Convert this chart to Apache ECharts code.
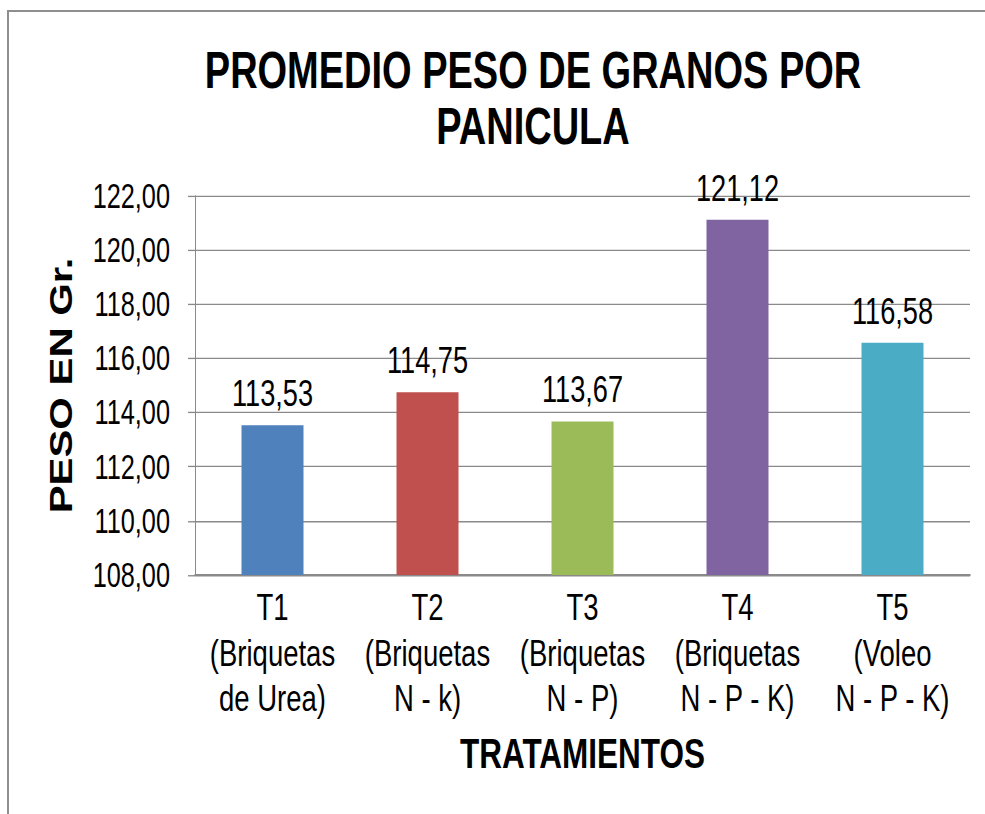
<!DOCTYPE html>
<html>
<head>
<meta charset="utf-8">
<script src="https://cdn.jsdelivr.net/npm/echarts@6/dist/echarts.min.js"></script>
<style>
    * { margin: 0; padding: 0; }
    body { background: #fff; overflow: hidden; }
    /* el original está estirado en vertical, se dibuja mas bajo y se escala */
    #chart {
        position: absolute; left: 0; top: 0;
        width: 985px; height: 603px;
        transform: scaleY(1.35); transform-origin: 0 0;
    }
    #marco {
        position: absolute; left: 7px; top: 10px;
        width: 1000px; height: 900px;
        border-left: 2px solid #8e8e8e; border-top: 2px solid #8e8e8e;
    }
</style>
</head>
<body>
<div id="marco"></div>
<div id="chart"></div>
<script>
    var tratamientos = [
        'T1\n(Briquetas\nde Urea)',
        'T2\n(Briquetas\nN - k)',
        'T3\n(Briquetas\nN - P)',
        'T4\n(Briquetas\nN - P - K)',
        'T5\n(Voleo\nN - P - K)'
    ]
    var peso = [113.53, 114.75, 113.67, 121.12, 116.58]
    var colores = ['#4F81BD', '#C0504D', '#9BBB59', '#8064A2', '#4BACC6']

    var fuente = 'Liberation Sans, Arial, sans-serif'
    function coma(v) { return v.toFixed(2).replace('.', ',') }

    var chart = echarts.init(document.getElementById('chart'), null, { renderer: 'svg' })
    chart.setOption({
        animation: false,
        title: {
            text: 'PROMEDIO PESO DE GRANOS POR\nPANICULA',
            left: 533,
            top: 32,
            padding: 0,
            textAlign: 'center',
            textStyle: {
                fontFamily: fuente,
                fontSize: 38,
                fontWeight: 'bold',
                color: '#000',
                lineHeight: 41
            }
        },
        grid: { left: 195, right: 15, top: 145.2, bottom: 177.1, containLabel: false },
        xAxis: {
            type: 'category',
            data: tratamientos,
            name: 'TRATAMIENTOS',
            nameLocation: 'middle',
            nameGap: 116,
            nameTextStyle: { fontFamily: fuente, fontSize: 31.5, fontWeight: 'bold', color: '#000' },
            axisLine: { lineStyle: { color: '#8a8a8a', width: 1.5 } },
            axisTick: { show: false },
            axisLabel: {
                interval: 0,
                margin: 7,
                fontFamily: fuente,
                fontSize: 27.5,
                lineHeight: 33.7,
                color: '#000'
            }
        },
        yAxis: {
            type: 'value',
            min: 108,
            max: 122,
            interval: 2,
            name: 'PESO EN Gr.',
            nameLocation: 'middle',
            nameGap: 118,
            nameTextStyle: { fontFamily: fuente, fontSize: 31, fontWeight: 'bold', color: '#000' },
            axisLine: { show: true, lineStyle: { color: '#8a8a8a', width: 1 } },
            axisTick: { show: true, length: 7, lineStyle: { color: '#8a8a8a' } },
            splitLine: { lineStyle: { color: '#8a8a8a', width: 1 } },
            axisLabel: {
                margin: 25,
                fontFamily: fuente,
                fontSize: 25.3,
                color: '#000',
                formatter: coma
            }
        },
        series: [{
            type: 'bar',
            data: peso.map(function (v, i) {
                return { value: v, itemStyle: { color: colores[i] } }
            }),
            barWidth: 62,
            label: {
                show: true,
                position: 'top',
                distance: 10,
                fontFamily: fuente,
                fontSize: 27.2,
                color: '#000',
                formatter: function (p) { return coma(p.value) }
            }
        }]
    })
</script>
</body>
</html>
